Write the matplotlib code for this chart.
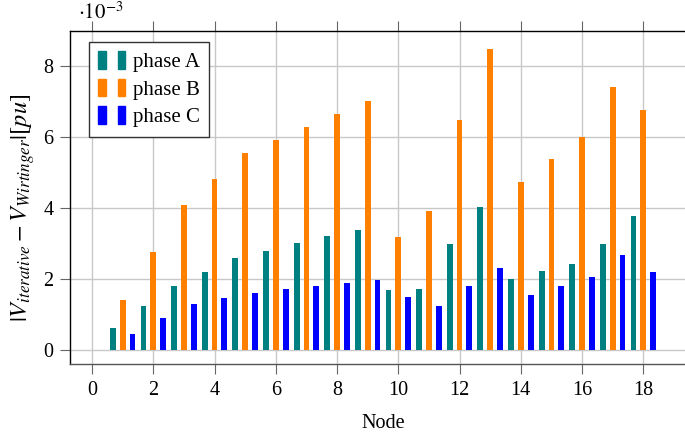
import numpy as np
import matplotlib.pyplot as plt
from matplotlib.patches import Patch
from matplotlib.legend_handler import HandlerTuple

# data (units of 1e-3 pu)
nodes = list(range(1, 19))
phase_a = [0.63, 1.23, 1.80, 2.19, 2.58, 2.80, 3.01, 3.22, 3.39,
           1.70, 1.71, 3.00, 4.03, 2.01, 2.22, 2.42, 2.99, 3.78]
phase_b = [1.40, 2.76, 4.09, 4.82, 5.56, 5.92, 6.29, 6.67, 7.03,
           3.18, 3.93, 6.49, 8.50, 4.74, 5.38, 6.02, 7.41, 6.77]
phase_c = [0.46, 0.91, 1.30, 1.46, 1.61, 1.71, 1.80, 1.90, 1.97,
           1.50, 1.23, 1.80, 2.30, 1.55, 1.80, 2.06, 2.69, 2.20]
series_names = ["phase A", "phase B", "phase C"]
colors = ["#008080", "#ff8000", "#0000ff"]

plt.rcParams["font.family"] = ["Liberation Serif", "DejaVu Serif"]
plt.rcParams["mathtext.fontset"] = "stix"
plt.rcParams["font.size"] = 14.5

W, H = 685, 437
fig = plt.figure(figsize=(W / 100, H / 100), dpi=100)
# axes in pixel coords: left 70, top 31, bottom 364, right past the edge
left, right, top, bottom = 70, 696, 31, 364
ax = fig.add_axes([left / W, 1 - bottom / H, (right - left) / W, (bottom - top) / H])

x = np.array(nodes, dtype=float)
offset = 0.32
width = 0.19
for vals, off, c in zip([phase_a, phase_b, phase_c], [-offset, 0, offset], colors):
    ax.bar(x + off, vals, width=width, color=c, zorder=3)

ax.set_xlim(-0.72, 19.72)
ax.set_ylim(-0.4, 9.0)
ax.set_xticks(range(0, 19, 2))
ax.set_yticks(range(0, 9, 2))
ax.grid(True, color="#c8c8c8", linewidth=1.0, zorder=0)
ax.tick_params(direction="out", length=7, color="#666666", width=0.8,
               top=True, right=True, labelsize=14.5, pad=5)
for s in ax.spines.values():
    s.set_linewidth(1.0)
ax.spines["bottom"].set_color("#555555")

ax.set_xlabel("Node", fontsize=14.5, labelpad=10)
ax.set_ylabel(r"$|V_{iterative} - V_{Wirtinger}|[pu]$", fontsize=17.5)
ax.yaxis.set_label_coords(-0.053, 0.47)
fig.text(78 / W, 1 - 13 / H, r"$\cdot 10^{-3}$", fontsize=15, va="center", ha="left")

handles = [(Patch(color=c), Patch(color=c)) for c in colors]
leg = ax.legend(handles, series_names, handler_map={tuple: HandlerTuple(ndivide=None, pad=0.6)},
                loc="upper left", bbox_to_anchor=((89 - left) / (right - left), 1 - (42 - top) / (bottom - top)),
                fancybox=False, edgecolor="#333333", framealpha=1, fontsize=15,
                handlelength=1.3, handleheight=0.9, handletextpad=0.35,
                borderpad=0.45, labelspacing=0.32, borderaxespad=0)
leg.get_frame().set_linewidth(1.0)

fig.savefig("out.png", dpi=100)
